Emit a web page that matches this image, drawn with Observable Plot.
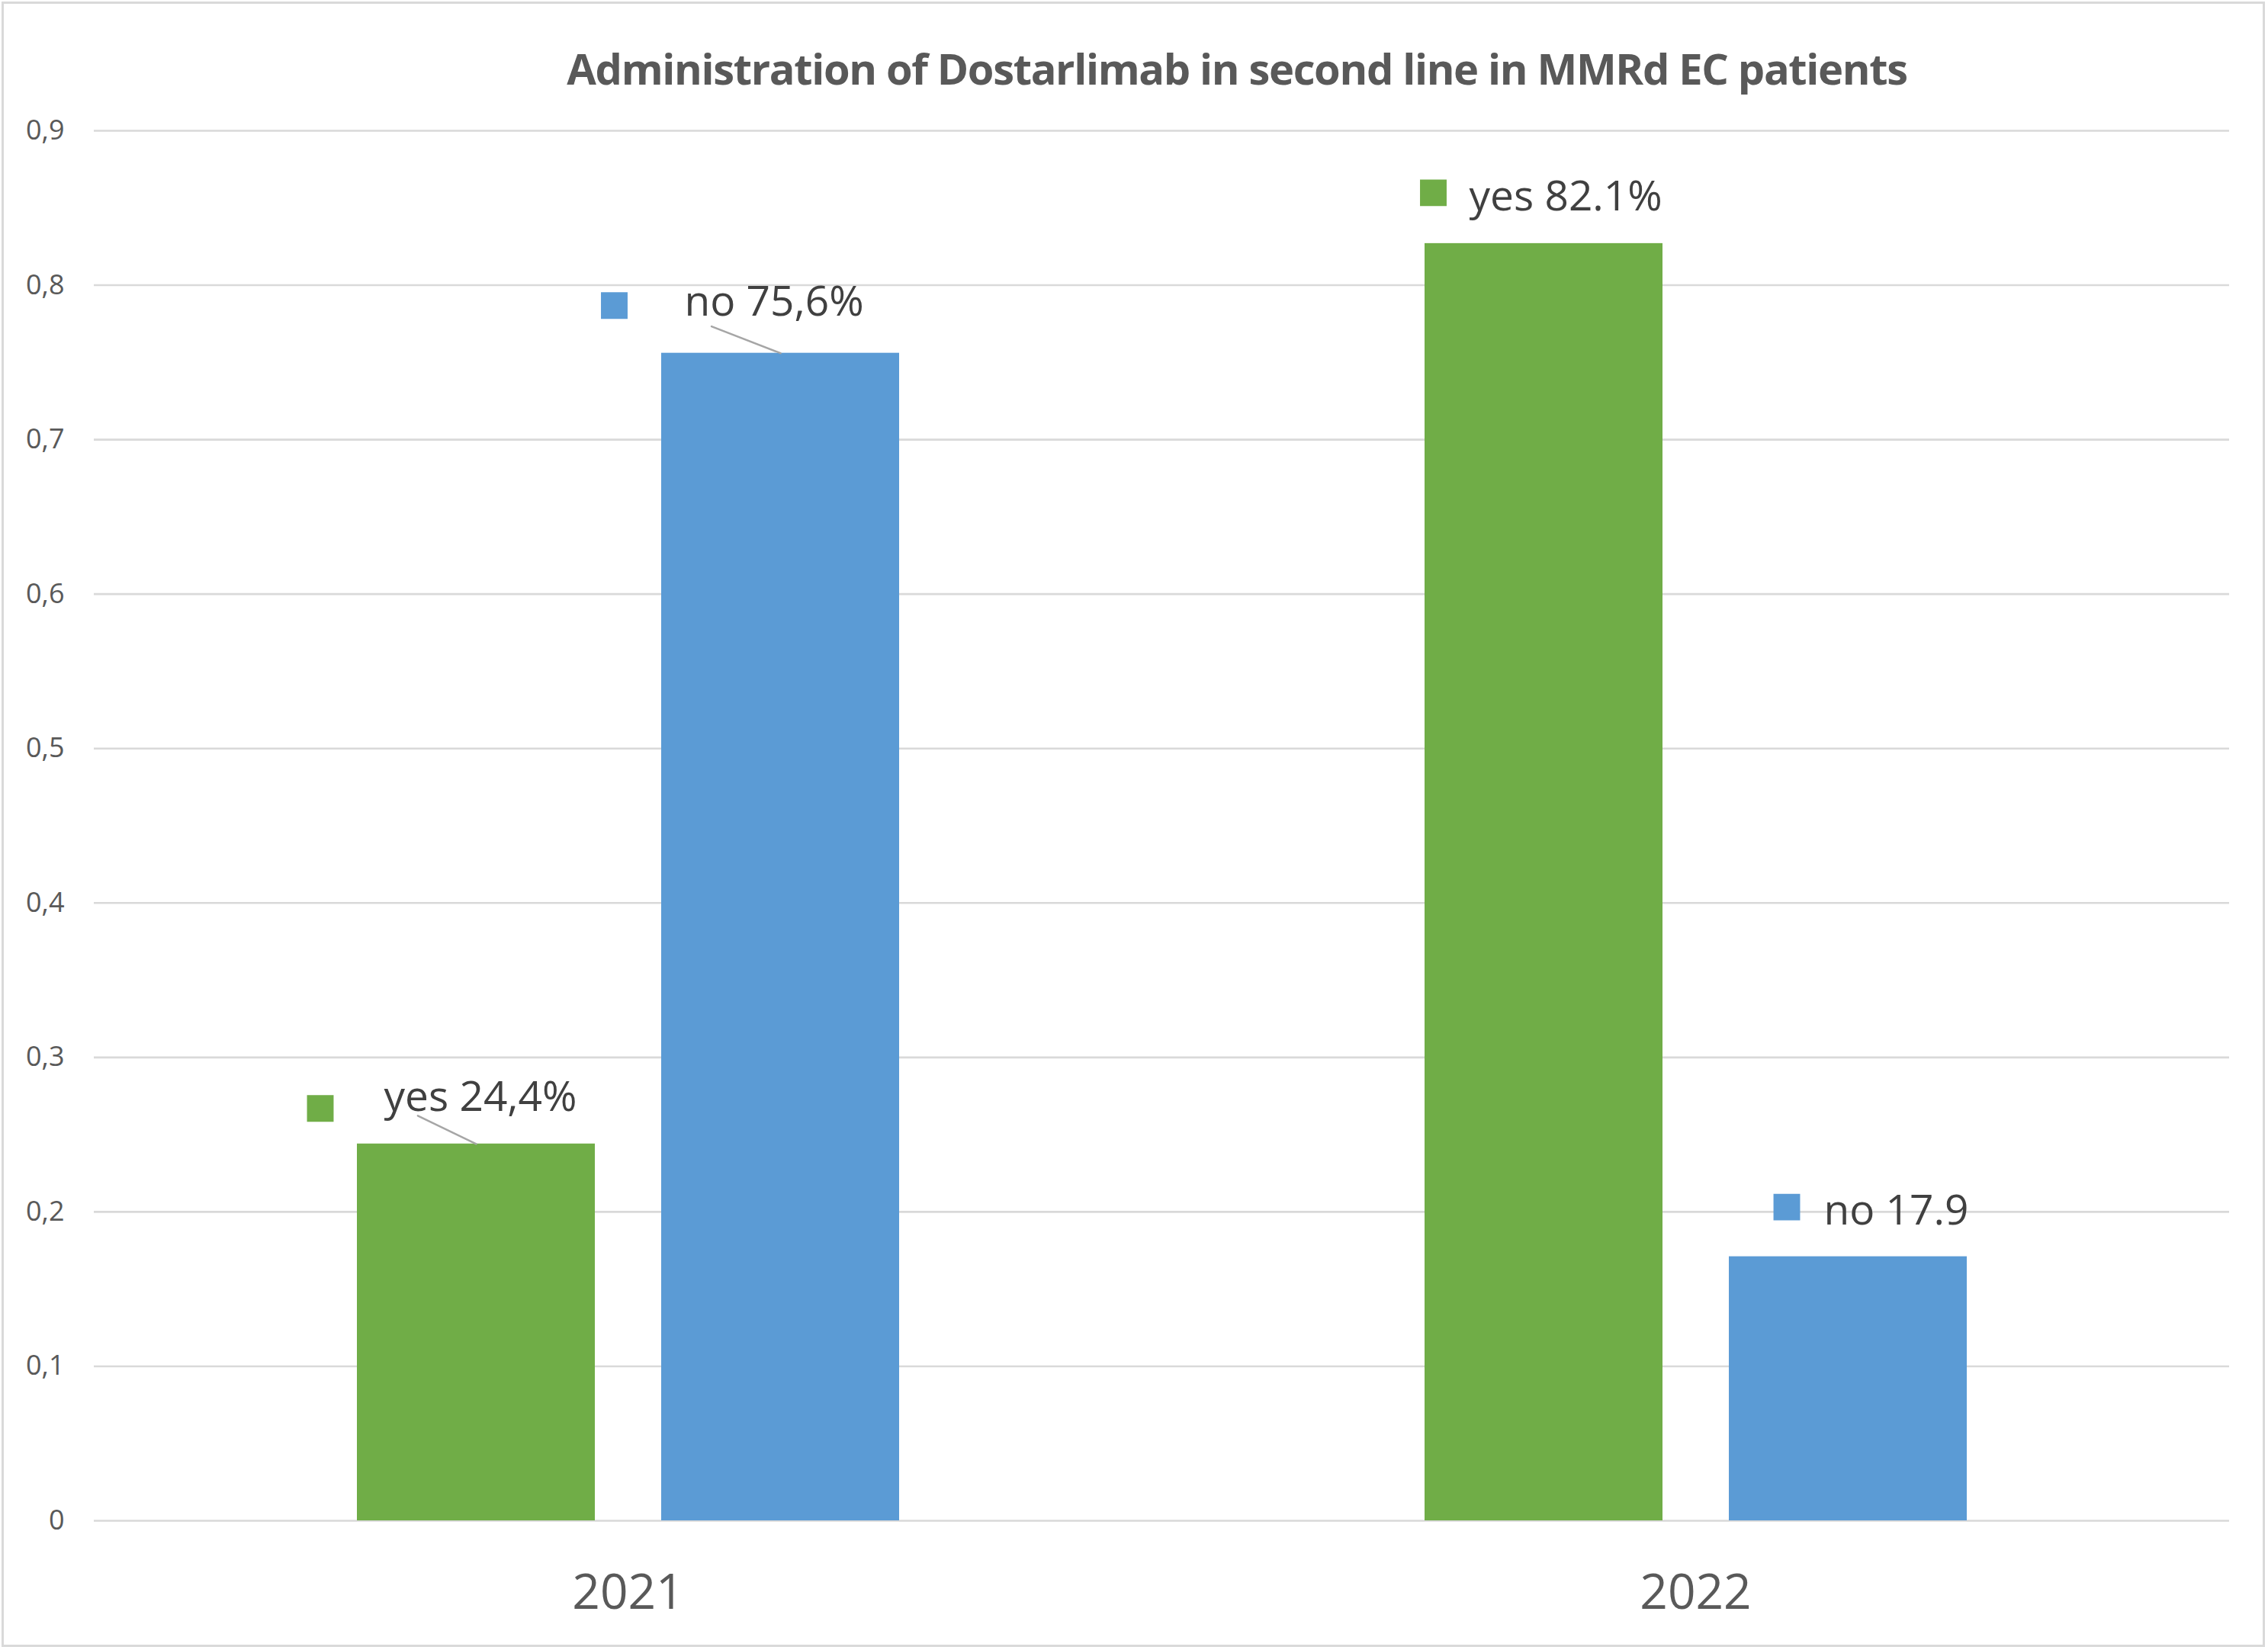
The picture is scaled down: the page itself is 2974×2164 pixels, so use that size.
<!DOCTYPE html>
<html>
<head>
<meta charset="utf-8">
<script src="https://cdn.jsdelivr.net/npm/d3@7"></script>
<script src="https://cdn.jsdelivr.net/npm/@observablehq/plot@0.6"></script>
<style>
  html, body { margin: 0; padding: 0; background: #fff; }
  #wrap { position: relative; width: 2974px; height: 2164px; overflow: hidden; background: #fff; }
  #frame { position: absolute; left: 2px; top: 2px; width: 2968px; height: 2158px; box-sizing: border-box; border: 3px solid #d9d9d9; }
  #chart { position: absolute; left: 0; top: 0; }
</style>
</head>
<body>
<div id="wrap"><div id="frame"></div><div id="chart"></div></div>
<script>
// ---- data ----
const title = "Administration of Dostarlimab in second line in MMRd EC patients";
const years = ["2021", "2022"];
const answers = ["yes", "no"];
const yesShare = [0.244, 0.827];
const noShare = [0.756, 0.171];
const yesLabels = ["yes 24,4%", "yes 82.1%"];
const noLabels = ["no 75,6%", "no 17.9"];
const yTicks = [0, 0.1, 0.2, 0.3, 0.4, 0.5, 0.6, 0.7, 0.8, 0.9];
const seriesColors = ["#70AD47", "#5B9BD5"];

// table built from the arrays
const rows = years.flatMap((year, i) => [
  {year, answer: "yes", value: yesShare[i], label: yesLabels[i]},
  {year, answer: "no", value: noShare[i], label: noLabels[i]}
]);

const tickFormat = d => d === 0 ? "0" : d3.format(".1f")(d).replace(".", ",");

function pick(year, answer) {
  return rows.filter(d => d.year === year && d.answer === answer);
}

const lineShape = {draw(context, l) { context.moveTo(0, 0); context.lineTo(0, -l); }};

function labelMarks(year, answer, o) {
  const data = pick(year, answer);
  const marks = [
    Plot.dot(data, {fx: "year", x: "answer", y: "value", symbol: "square", r: 19.7,
      fill: "answer", stroke: null, dx: o.mdx, dy: o.mdy}),
    Plot.text(data, {fx: "year", x: "answer", y: "value", text: "label",
      textAnchor: "start", lineAnchor: "bottom", dx: o.tdx, dy: o.tdy,
      fontSize: 55, fill: "#404040"})
  ];
  if (o.len) {
    marks.push(Plot.vector(data, {fx: "year", x: "answer", y: "value",
      length: o.len, rotate: o.rot, anchor: "start", shape: lineShape,
      stroke: "#a6a6a6", strokeWidth: 2.5}));
  }
  return marks;
}

const chart = Plot.plot({
  width: 2974,
  height: 2164,
  marginTop: 171,
  marginBottom: 170,
  marginLeft: 123,
  marginRight: 51,
  style: {fontFamily: "'Open Sans', sans-serif", background: "transparent", overflow: "visible"},
  fx: {domain: years, padding: 0, label: null},
  x: {domain: answers, paddingInner: 0.2186, paddingOuter: 0.862, axis: null},
  y: {domain: [0, 0.9], axis: null},
  color: {domain: answers, range: seriesColors},
  marks: [
    Plot.gridY(yTicks, {stroke: "#d9d9d9", strokeOpacity: 1, strokeWidth: 2.6}),
    Plot.axisY(yTicks, {tickSize: 0, tickPadding: 39, tickFormat, fontSize: 36, color: "#595959", label: null}),
    Plot.axisFx({anchor: "bottom", tickSize: 0, tickPadding: 70, fontSize: 64, color: "#595959", label: null}),
    Plot.barY(rows, {fx: "year", x: "answer", y: "value", fill: "answer"}),
    ...labelMarks("2021", "yes", {tdx: -121, tdy: -43, mdx: -204.5, mdy: -46.5, len: 85, rot: -64.3}),
    ...labelMarks("2021", "no", {tdx: -126, tdy: -49, mdx: -218, mdy: -62.5, len: 97, rot: -68.8}),
    ...labelMarks("2022", "yes", {tdx: -98, tdy: -43, mdx: -145, mdy: -66.5}),
    ...labelMarks("2022", "no", {tdx: -32, tdy: -42, mdx: -80.5, mdy: -65})
  ]
});

d3.select(chart).append("text")
  .attr("x", 1622)
  .attr("y", 111)
  .attr("text-anchor", "middle")
  .attr("font-family", "'Open Sans', sans-serif")
  .attr("font-weight", "bold")
  .attr("font-size", 56)
  .attr("letter-spacing", "-1.35px")
  .attr("fill", "#595959")
  .text(title);

document.getElementById("chart").appendChild(chart);
</script>
</body>
</html>
